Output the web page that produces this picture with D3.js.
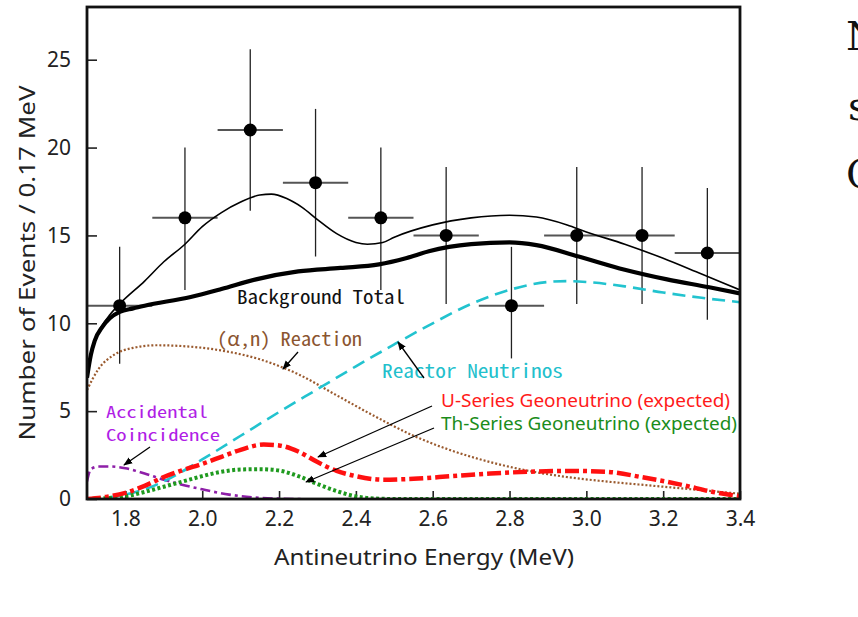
<!DOCTYPE html>
<html><head><meta charset="utf-8">
<script src="https://cdn.jsdelivr.net/npm/d3@7"></script>
<style>
body{margin:0;background:#fff}
svg{display:block}
</style>
</head><body>
<svg id="c" width="858" height="617"></svg>
<script>
// ---------------- data ----------------
const binCenters = [1.785,1.955,2.125,2.295,2.465,2.635,2.805,2.975,3.145,3.315];
const observed   = [11,16,21,18,16,15,11,15,15,14];
const errLow     = [7.7,11.9,16.4,13.8,11.9,11.1,8.0,11.1,11.1,10.2];
const errHigh    = [14.35,20.0,25.6,22.2,20.0,18.9,14.35,18.9,18.9,17.7];
const binHalfWidth = 0.085;

const totalE = [1.70,1.72,1.74,1.76,1.785,1.85,1.90,1.955,2.00,2.05,2.10,2.15,2.18,2.22,2.26,2.30,2.35,2.40,2.43,2.47,2.50,2.60,2.70,2.80,2.87,2.95,3.00,3.10,3.20,3.30,3.40];
const totalV = [6.9,9.0,9.9,10.5,11.1,12.4,13.5,14.5,15.5,16.3,16.9,17.3,17.35,17.1,16.6,15.9,15.1,14.6,14.5,14.6,14.9,15.6,16.0,16.15,16.05,15.6,15.2,14.5,13.7,12.8,11.9];

const bgE = [1.70,1.71,1.72,1.74,1.76,1.785,1.82,1.85,1.97,2.05,2.14,2.25,2.36,2.46,2.53,2.59,2.70,2.80,2.87,2.98,3.10,3.21,3.32,3.40];
const bgV = [6.9,8.2,9.0,9.8,10.3,10.65,10.85,11.0,11.5,11.95,12.5,12.95,13.15,13.35,13.7,14.1,14.5,14.6,14.45,13.8,13.05,12.5,12.05,11.7];

const reactorE = [1.70,1.75,1.80,1.85,1.90,2.00,2.10,2.20,2.30,2.40,2.50,2.60,2.70,2.80,2.90,2.95,3.00,3.10,3.20,3.30,3.40];
const reactorV = [0.0,0.08,0.25,0.55,1.0,2.25,3.6,4.95,6.25,7.55,8.8,10.0,11.1,11.9,12.35,12.4,12.35,12.1,11.75,11.45,11.2];

const alphaNE = [1.70,1.73,1.77,1.82,1.88,1.95,2.05,2.15,2.25,2.35,2.45,2.55,2.65,2.75,2.85,2.95,3.05,3.15,3.25,3.40];
const alphaNV = [6.2,7.4,8.2,8.6,8.75,8.7,8.45,7.95,7.1,5.9,4.7,3.6,2.75,2.1,1.6,1.25,1.0,0.8,0.6,0.3];

const accidentalE = [1.70,1.71,1.73,1.76,1.80,1.85,1.90,1.95,2.00,2.07,2.13,2.20,2.26];
const accidentalV = [1.0,1.7,1.85,1.85,1.75,1.45,1.1,0.8,0.55,0.25,0.1,0.02,0.0];

const uSeriesE = [1.70,1.75,1.80,1.85,1.90,1.95,2.00,2.05,2.10,2.16,2.20,2.25,2.30,2.35,2.40,2.47,2.55,2.65,2.75,2.85,2.95,3.05,3.15,3.25,3.33,3.40];
const uSeriesV = [0.0,0.12,0.35,0.75,1.25,1.65,2.0,2.4,2.8,3.1,3.05,2.7,2.1,1.6,1.3,1.1,1.15,1.3,1.45,1.55,1.6,1.55,1.22,0.8,0.4,0.15];

const thSeriesE = [1.70,1.75,1.80,1.85,1.90,1.95,2.00,2.05,2.10,2.15,2.20,2.25,2.30,2.35,2.40,2.45,2.50,3.40];
const thSeriesV = [0.0,0.05,0.15,0.4,0.7,1.0,1.3,1.55,1.68,1.7,1.62,1.3,0.85,0.45,0.15,0.03,0.0,0.0];

const xTickValues = [1.8,2.0,2.2,2.4,2.6,2.8,3.0,3.2,3.4];
const yTickValues = [0,5,10,15,20,25];

// ---------------- scales ----------------
const svg = d3.select('#c');
const x = d3.scaleLinear().domain([1.7,3.4]).range([87,740]);
const y = d3.scaleLinear().domain([0,28]).range([499,7]);

const defs = svg.append('defs');
defs.append('clipPath').attr('id','clip')
  .append('rect').attr('x',87).attr('y',7).attr('width',653).attr('height',492);
defs.append('marker').attr('id','arr').attr('viewBox','0 0 10 10').attr('refX',9).attr('refY',5)
  .attr('markerWidth',9).attr('markerHeight',9).attr('markerUnits','userSpaceOnUse').attr('orient','auto')
  .append('path').attr('d','M0,1 L10,5 L0,9 Z').attr('fill','#000');

const tickFont = '"Noto Sans", "Open Sans", sans-serif';

// ---------------- axes ----------------
const gx = svg.append('g').attr('transform',`translate(0,${y(0)})`);
gx.call(d3.axisBottom(x).tickValues(d3.range(1.75,3.4,0.05)).tickSize(-4).tickFormat(''));
gx.call(d3.axisBottom(x).tickValues(xTickValues).tickSize(-8).tickPadding(12).tickFormat(d3.format('.1f')));
gx.selectAll('path.domain').remove();
gx.selectAll('text').attr('font-family',tickFont).attr('font-size',21).attr('fill','#222');

const gy = svg.append('g').attr('transform',`translate(${x(1.7)},0)`);
gy.call(d3.axisLeft(y).tickValues(d3.range(1,28,1)).tickSize(-5).tickFormat(''));
gy.call(d3.axisLeft(y).tickValues(yTickValues).tickSize(-10).tickPadding(16).tickFormat(d3.format('d')));
gy.selectAll('path.domain').remove();
gy.selectAll('text').attr('font-family',tickFont).attr('font-size',21).attr('fill','#222');
svg.selectAll('.tick line').attr('stroke','#222').attr('stroke-width',1.6);

// axis titles
svg.append('text').attr('transform',`translate(35,${(y(0)+y(28))/2+10}) rotate(-90)`)
  .attr('text-anchor','middle').attr('font-family',tickFont).attr('font-size',21).attr('fill','#222')
  .attr('textLength',355).attr('lengthAdjust','spacingAndGlyphs')
  .text('Number of Events / 0.17 MeV');
svg.append('text').attr('x',424).attr('y',565)
  .attr('text-anchor','middle').attr('font-family',tickFont).attr('font-size',21).attr('fill','#222')
  .attr('textLength',300).attr('lengthAdjust','spacingAndGlyphs')
  .text('Antineutrino Energy (MeV)');

// ---------------- error bars ----------------
const pts = binCenters.map((e,i)=>({e, v:observed[i], lo:errLow[i], hi:errHigh[i]}));
const eb = svg.append('g').attr('clip-path','url(#clip)');
eb.selectAll('line.v').data(pts).join('line').attr('class','v')
  .attr('x1',d=>x(d.e)).attr('x2',d=>x(d.e)).attr('y1',d=>y(d.lo)).attr('y2',d=>y(d.hi))
  .attr('stroke','#222').attr('stroke-width',1.3);
eb.selectAll('line.h').data(pts).join('line').attr('class','h')
  .attr('x1',d=>x(d.e-binHalfWidth)).attr('x2',d=>x(d.e+binHalfWidth)).attr('y1',d=>y(d.v)).attr('y2',d=>y(d.v))
  .attr('stroke','#555').attr('stroke-width',2);

// ---------------- curves ----------------
const line = d3.line().x(d=>x(d[0])).y(d=>y(d[1])).curve(d3.curveMonotoneX);
const cg = svg.append('g').attr('clip-path','url(#clip)');
function curve(E,V,style){
  const p = cg.append('path').datum(E.map((e,i)=>[e,V[i]])).attr('d',line).attr('fill','none');
  for (const k in style) p.attr(k,style[k]);
}
curve(alphaNE,alphaNV,{stroke:'#9a5a2e','stroke-width':2.2,'stroke-dasharray':'2,2'});
curve(accidentalE,accidentalV,{stroke:'#8e1fa8','stroke-width':2.6,'stroke-dasharray':'10,4,3,4'});
curve(reactorE,reactorV,{stroke:'#22c3cf','stroke-width':2.6,'stroke-dasharray':'13,7'});
curve(thSeriesE,thSeriesV,{stroke:'#1f9a1f','stroke-width':4,'stroke-dasharray':'3,2.5'});
curve(uSeriesE,uSeriesV,{stroke:'#ff1010','stroke-width':4.5,'stroke-dasharray':'14,4,4,4'});
curve(bgE,bgV,{stroke:'#000','stroke-width':4.2,'stroke-linejoin':'round'});
curve(totalE,totalV,{stroke:'#000','stroke-width':1.6});

// ---------------- points ----------------
svg.append('g').selectAll('circle').data(pts).join('circle')
  .attr('cx',d=>x(d.e)).attr('cy',d=>y(d.v)).attr('r',6.5).attr('fill','#000');

// ---------------- frame ----------------
svg.append('rect').attr('x',x(1.7)).attr('y',y(28)).attr('width',x(3.4)-x(1.7)).attr('height',y(0)-y(28))
  .attr('fill','none').attr('stroke','#111').attr('stroke-width',2.8);

// ---------------- annotations ----------------
const mono = '"Noto Sans Mono CJK JP", "DejaVu Sans Mono", "Liberation Mono", monospace';
const sans = '"Noto Sans", "Open Sans", sans-serif';
function label(t,xp,yp,col,fam,size,len){
  svg.append('text').attr('x',xp).attr('y',yp).attr('fill',col).attr('font-family',fam)
    .attr('font-size',size).attr('textLength',len).attr('lengthAdjust','spacingAndGlyphs').text(t);
}
label('Background Total',237,304,'#111',mono,19,168);
label('(\u03B1,n) Reaction',217,346,'#8b5530',mono,19,145);
label('Reactor Neutrinos',382,378,'#22c0cc',mono,19,181);
label('U-Series Geoneutrino (expected)',441,407,'#ff1a1a',sans,17.5,289);
label('Th-Series Geoneutrino (expected)',441,430,'#1a8c1a',sans,17.5,296);
label('Accidental',106,418,'#b01ee6',mono,16.5,102);
label('Coincidence',106,441,'#b01ee6',mono,16.5,114);

function arrow(x1,y1,x2,y2){
  svg.append('line').attr('x1',x1).attr('y1',y1).attr('x2',x2).attr('y2',y2)
    .attr('stroke','#000').attr('stroke-width',1.3).attr('marker-end','url(#arr)');
}
arrow(298,352,283,369);
arrow(424,378,398,342);
arrow(150,447,124,465);
arrow(432,406,318,457);
arrow(434,428,306,482);

// ---------------- cut-off text on right ----------------
const rt = svg.append('g').attr('font-family','"DejaVu Serif", "Liberation Serif", serif').attr('font-size',40).attr('fill','#111');
rt.append('text').attr('x',846).attr('y',50).text('N');
rt.append('text').attr('x',848).attr('y',120).text('s');
rt.append('text').attr('x',846).attr('y',188).text('C');
</script>
</body></html>
